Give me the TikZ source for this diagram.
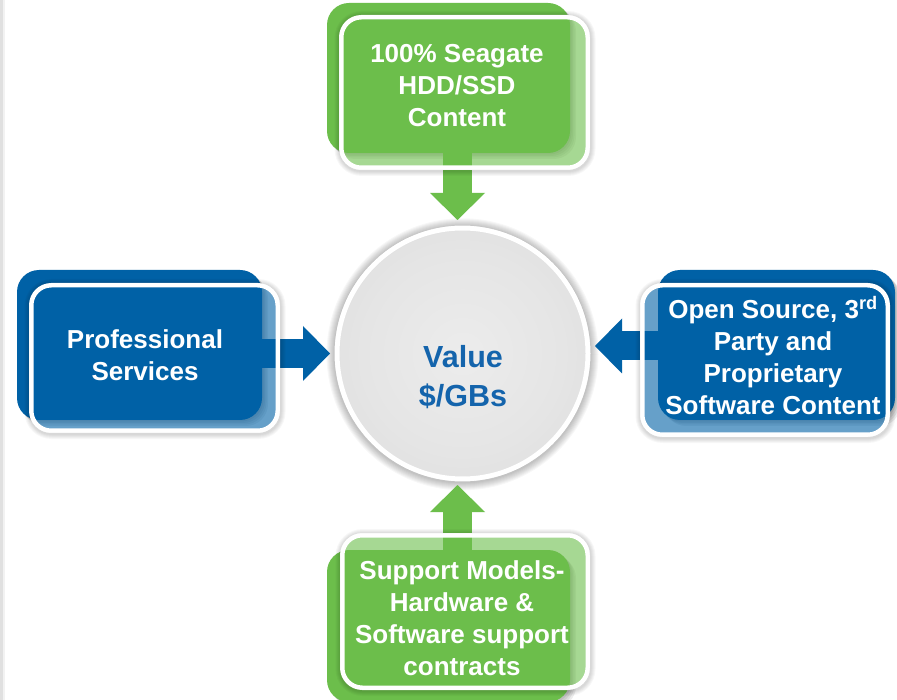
\documentclass[tikz,border=0pt]{standalone}
\usepackage{fontspec}
\setmainfont{Liberation Sans}
\usetikzlibrary{arrows.meta,shadows,calc}
\definecolor{sgblue}{RGB}{0,97,166}
\definecolor{sggreen}{RGB}{108,190,75}
\definecolor{valblue}{RGB}{20,100,172}
\definecolor{cinner}{RGB}{236,236,236}
\definecolor{cmid}{RGB}{229,229,229}
\definecolor{couter}{RGB}{212,212,212}
\pgfdeclareradialshading{valshade}{\pgfpoint{0bp}{0bp}}{color(0bp)=(cinner); color(20bp)=(cmid); color(50bp)=(couter)}
\tikzset{
  backbox/.style={rectangle, rounded corners=22pt, inner sep=0pt, fill=#1,
    general shadow={fill=black, opacity=0.07, shadow xshift=1.5pt, shadow yshift=-1.5pt},
    general shadow={fill=black, opacity=0.07, shadow xshift=3pt, shadow yshift=-3pt},
    general shadow={fill=black, opacity=0.07, shadow xshift=4.5pt, shadow yshift=-4.5pt},
    general shadow={fill=black, opacity=0.07, shadow xshift=6pt, shadow yshift=-6pt}},
  frontbox/.style={rectangle, rounded corners=20pt, inner sep=0pt, draw=white,
    line width=4.5pt, fill=#1, fill opacity=0.6},
  boxlabel/.style={text=white, font=\bfseries\fontsize{26}{32}\selectfont, align=center, inner sep=0pt},
  fatarrow/.style={draw=#1, line width=29pt, -{Triangle[width=55pt,length=27pt,line width=0pt]}},
  halo/.style={fill=black, opacity=0.03, even odd rule}
}
\newcommand{\boxhalo}[1]{%
  \foreach \k in {1,...,5}{%
    \fill[halo] [rounded corners=22pt+\k pt]
      ($(#1.north west)+(-\k+0.5,-\k+1)$) rectangle ($(#1.south east)+(\k+0.5,\k+1)$)
      [rounded corners=22pt] (#1.north west) rectangle (#1.south east);
  }%
}
\begin{document}
\begin{tikzpicture}[x=1pt,y=-1pt]
\useasboundingbox (0,0) rectangle (897,700);
\fill[white] (0,0) rectangle (897,700);
\fill[black!12] (0,0) rectangle (2.5,700);
\fill[black!5] (2.5,0) rectangle (5,700);

% centre circle
\node[circle, minimum size=251pt, inner sep=0pt, draw=white, line width=5pt, shading=valshade]
  (val) at (462.5,353.5) {};
\foreach \k in {1,...,8}{%
  \fill[halo] ($(val.center)+(0,0.8)$) circle (128pt+\k pt) (val.center) circle (128pt);
}

% back boxes
\node[backbox=sggreen, minimum width=243pt, minimum height=150pt] (tb) at (448.5,78) {};
\node[backbox=sgblue, minimum width=245pt, minimum height=150pt] (lb) at (139.5,345) {};
\node[backbox=sgblue, minimum width=237pt, minimum height=150pt] (rb) at (776.5,345) {};
\node[backbox=sggreen, minimum width=243pt, minimum height=152pt] (bb) at (448.5,626) {};

% arrow tips
\coordinate (tA) at (457.5,220);
\coordinate (lA) at (330,353.5);
\coordinate (rA) at (595,346);
\coordinate (bA) at (457.5,485);

\draw[fatarrow=sggreen] (tA |- tb.south) -- (tA);
\draw[fatarrow=sgblue] (lb.east |- lA) -- (lA);
\draw[fatarrow=sgblue] (rb.west |- rA) -- (rA);
\draw[fatarrow=sggreen] (bA |- bb.north) -- (bA);

% front boxes
\node[frontbox=sggreen, minimum width=246.5pt, minimum height=150.5pt] (tf) at (464.5,92.5) {};
\node[frontbox=sgblue, minimum width=246.5pt, minimum height=145.5pt] (lf) at (154.5,358) {};
\node[frontbox=sgblue, minimum width=245.5pt, minimum height=149.5pt] (rf) at (765,360) {};
\node[frontbox=sggreen, minimum width=245.5pt, minimum height=152.5pt] (bf) at (465,611.5) {};
\boxhalo{tf}
\boxhalo{lf}
\boxhalo{rf}
\boxhalo{bf}

% labels
\node[boxlabel] (tt) at (457,86) {100\% Seagate\\HDD/SSD\\Content};
\node[boxlabel] (lt) at (145,355.5) {Professional\\Services};
\node[boxlabel] (rt) at (773,355.5) {Open Source, 3\textsuperscript{rd}\\Party and\\Proprietary\\Software Content};
\node[boxlabel] (bt) at (462,618.5) {Support Models-\\Hardware \&\\Software support\\contracts};
\node[text=valblue, font=\bfseries\fontsize{30.5}{39}\selectfont, align=center, inner sep=0pt]
  (vt) at (463,377.5) {Value\\\$/GBs};
\end{tikzpicture}
\end{document}
